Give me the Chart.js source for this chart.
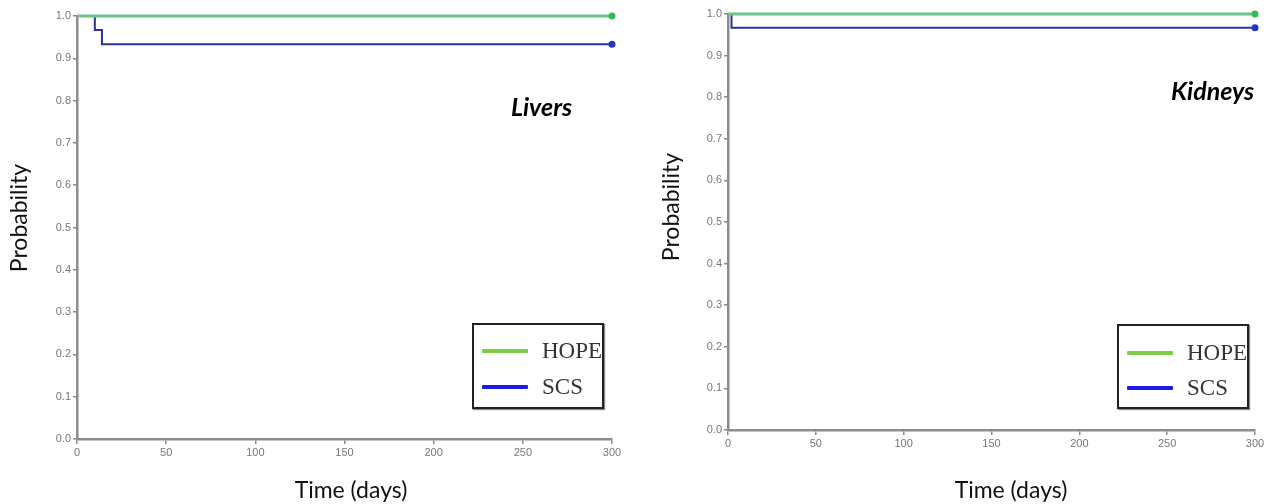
<!DOCTYPE html>
<html>
<head>
<meta charset="utf-8">
<script src="https://cdn.jsdelivr.net/npm/chart.js@4.4.1/dist/chart.umd.min.js"></script>
<style>
  html, body { margin: 0; padding: 0; background: #fff; }
  body { width: 1280px; height: 504px; position: relative; overflow: hidden; }
  .panel { position: absolute; top: 0; width: 640px; height: 504px; }
  .panel canvas { position: absolute; left: 0; top: 0; }
  .ytitle { position: absolute; width: 200px; height: 30px; line-height: 30px; text-align: center;
            font-family: Lato, 'Open Sans', sans-serif; font-size: 23px; color: #111; transform: rotate(-90deg); }
  .xtitle { position: absolute; width: 200px; height: 30px; line-height: 30px; text-align: center;
            font-family: Lato, 'Open Sans', sans-serif; font-size: 23px; color: #111; }
  .organ { position: absolute; font-family: Lato, 'Open Sans', sans-serif; font-size: 25px; font-weight: bold;
           font-style: italic; color: #000; white-space: nowrap; line-height: 30px; }
  .legend { position: absolute; border: 2px solid #222; box-shadow: 1px 1px 1px #888; background: #fff; box-sizing: border-box; }
  .legend .sw { position: absolute; height: 4px; border-radius: 1px; }
  .legend .lt { position: absolute; font-family: 'Liberation Serif', 'Times New Roman', serif; font-size: 23px;
                color: #333; line-height: 24px; white-space: nowrap; }
</style>
</head>
<body>
<div class="panel" id="pL" style="left:0">
  <canvas id="cL" width="640" height="504"></canvas>
  <div class="ytitle" style="left:-82px; top:203px;">Probability</div>
  <div class="xtitle" style="left:251px; top:474px;">Time (days)</div>
  <div class="organ" style="left:511px; top:91px;">Livers</div>
  <div class="legend" style="left:472px; top:323px; width:132px; height:86px;">
    <div class="sw" style="left:8px; top:24px; width:46px; background:#7dcc45;"></div>
    <div class="lt" style="left:68px; top:14px;">HOPE</div>
    <div class="sw" style="left:8px; top:60px; width:46px; background:#1a1aee;"></div>
    <div class="lt" style="left:68px; top:50px;">SCS</div>
  </div>
</div>
<div class="panel" id="pR" style="left:640px">
  <canvas id="cR" width="640" height="504"></canvas>
  <div class="ytitle" style="left:-70px; top:192px;">Probability</div>
  <div class="xtitle" style="left:271px; top:474px;">Time (days)</div>
  <div class="organ" style="left:531px; top:75px;">Kidneys</div>
  <div class="legend" style="left:477px; top:324px; width:132px; height:85px;">
    <div class="sw" style="left:8px; top:25px; width:46px; background:#7dcc45;"></div>
    <div class="lt" style="left:68px; top:15px;">HOPE</div>
    <div class="sw" style="left:8px; top:60px; width:46px; background:#1a1aee;"></div>
    <div class="lt" style="left:68px; top:50px;">SCS</div>
  </div>
</div>
<script>
// ---- data ----
const timeTicks = [0, 50, 100, 150, 200, 250, 300];
const probTicks = [0, 0.1, 0.2, 0.3, 0.4, 0.5, 0.6, 0.7, 0.8, 0.9, 1.0];
const seriesNames = ['HOPE', 'SCS'];

const liverHopeTime = [0, 300];
const liverHopeProb = [1.0, 1.0];
const liverScsTime  = [0, 10, 14, 300];
const liverScsProb  = [1.0, 0.967, 0.933, 0.933];

const kidneyHopeTime = [0, 300];
const kidneyHopeProb = [1.0, 1.0];
const kidneyScsTime  = [0, 2, 300];
const kidneyScsProb  = [1.0, 0.967, 0.967];

// ---- helpers ----
function pts(xs, ys) { return xs.map((x, i) => ({ x: x, y: ys[i] })); }

function makeChart(id, hopeT, hopeP, scsT, scsP, geo) {
  const lastRadius = r => (ctx => ctx.dataIndex === ctx.dataset.data.length - 1 ? r : 0);
  const tickColor = '#777';
  return new Chart(document.getElementById(id), {
    type: 'line',
    data: {
      datasets: [
        {
          label: seriesNames[0], data: pts(hopeT, hopeP), stepped: 'before',
          borderColor: '#6fc28c', borderWidth: 3, pointRadius: lastRadius(3.5),
          pointBackgroundColor: '#33bb55', pointBorderColor: '#33bb55', pointBorderWidth: 0, clip: 8
        },
        {
          label: seriesNames[1], data: pts(scsT, scsP), stepped: 'before',
          borderColor: '#2e3398', borderWidth: 2, pointRadius: lastRadius(3.5),
          pointBackgroundColor: '#1f36c8', pointBorderColor: '#1f36c8', pointBorderWidth: 0, clip: 8
        }
      ]
    },
    options: {
      responsive: false, animation: false, events: [],
      layout: { padding: { left: 0, top: geo.top, right: geo.right, bottom: 0 } },
      plugins: { legend: { display: false }, tooltip: { enabled: false } },
      scales: {
        x: {
          type: 'linear', min: 0, max: 300,
          afterBuildTicks: s => { s.ticks = timeTicks.map(v => ({ value: v })); },
          afterFit: s => { s.height = geo.xh; },
          grid: { drawOnChartArea: false, drawTicks: true, tickLength: 5, color: '#888', lineWidth: 1.5 },
          border: { color: '#8c8c8c', width: 2.5 },
          ticks: { color: tickColor, font: { family: 'Liberation Sans', size: 11 }, padding: 2, maxRotation: 0,
                   callback: v => String(v) }
        },
        y: {
          type: 'linear', min: 0, max: 1,
          afterBuildTicks: s => { s.ticks = probTicks.map(v => ({ value: v })); },
          afterFit: s => { s.width = geo.yw; },
          grid: { drawOnChartArea: false, drawTicks: true, tickLength: 4, color: '#888', lineWidth: 1.5 },
          border: { color: '#8c8c8c', width: 2.5 },
          ticks: { color: tickColor, font: { family: 'Liberation Sans', size: 11 }, padding: 2,
                   callback: v => Number(v).toFixed(1) }
        }
      }
    }
  });
}

makeChart('cL', liverHopeTime, liverHopeProb, liverScsTime, liverScsProb,
  { top: 16, right: 28, yw: 77, xh: 504 - 439 });
makeChart('cR', kidneyHopeTime, kidneyHopeProb, kidneyScsTime, kidneyScsProb,
  { top: 14, right: 25, yw: 88, xh: 504 - 430 });
</script>
</body>
</html>
